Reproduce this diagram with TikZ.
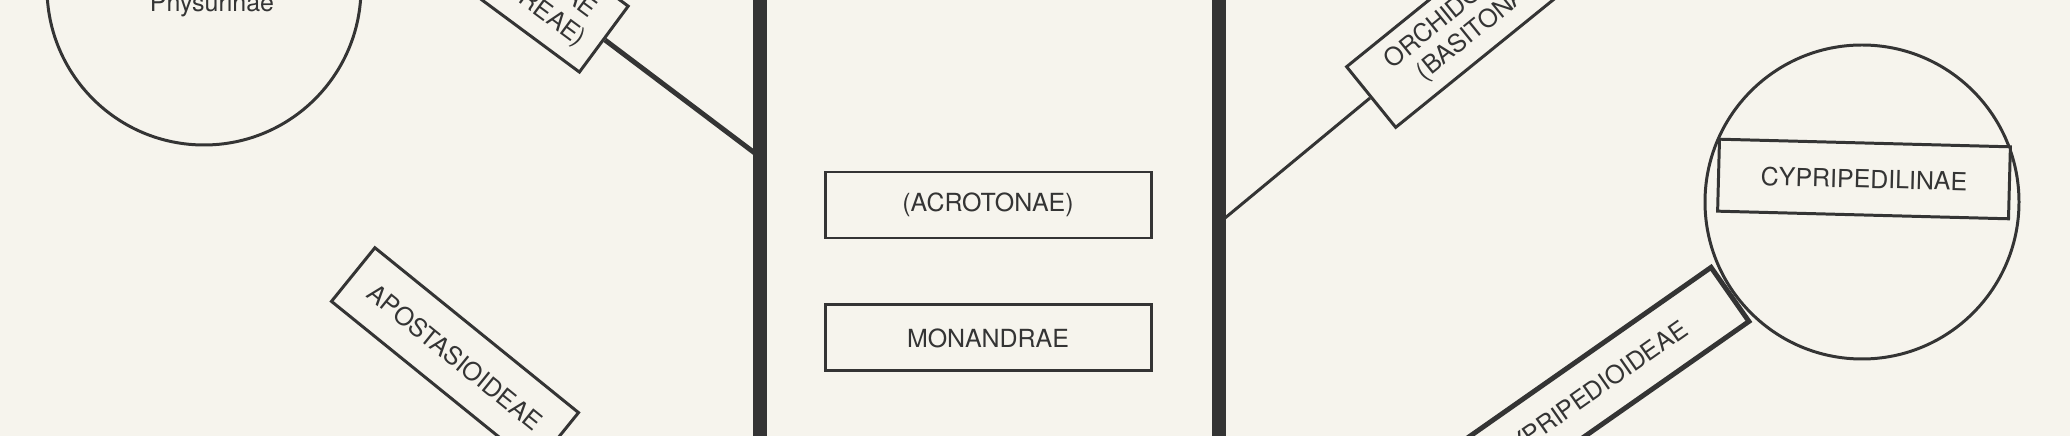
\documentclass[tikz,border=0pt]{standalone}
\usepackage{fontspec}
\setmainfont{TeX Gyre Heros}
\usepackage{tikz}
\usetikzlibrary{positioning}
\definecolor{paper}{RGB}{246,244,237}
\definecolor{ink}{RGB}{52,52,52}

\begin{document}
\begin{tikzpicture}[x=0.1mm,y=-0.1mm]

\tikzset{taxon/.style={
		draw=ink,
		line width=0.85pt,
		fill=paper,
		text=ink,
		font=\fontsize{7.1pt}{8.3pt}\selectfont,
		inner sep=0pt,
		minimum height=#1,
		anchor=center
	},
	taxon/.default=6.6mm,
	clade/.style={draw=ink, line width=0.85pt, circle, inner sep=0pt, minimum size=31.4mm},
	stem/.style={draw=ink, line width=3.8pt},
	branch/.style={draw=ink, line width=#1},
	branch/.default=0.85pt
}
\useasboundingbox (0,0) rectangle (2070,436);
\clip (0,0) rectangle (2070,436);
\fill[paper] (0,0) rectangle (2070,436);

%left side
\node[clade] (physc) at (204,-12) {};
\node[text=ink, font=\fontsize{7.1pt}{8.3pt}\selectfont, anchor=base] (physl) at (212,12) {Physurinae};
\node[taxon=8.2mm, rotate=-36.5, anchor=east, align=center, text width=24.5mm, inner xsep=1.2mm] (spir) at (605,40) {SPIRANTHOIDEAE\\(POLYCHONDREAE)};
\node[taxon=6.9mm, rotate=-39, minimum width=26.2mm] (apos) at (455,357) {APOSTASIOIDEAE};

%middle
\node[taxon, minimum width=32.6mm] (acro) at (988,205) {(ACROTONAE)};
\node[taxon, minimum width=32.6mm, below=6.4mm of acro] (mono) {MONANDRAE};

%right side
\node[taxon=7.8mm, rotate=39, anchor=west, align=center, text width=20.5mm, inner xsep=2.8mm] (orch) at (1370,98) {ORCHIDOIDEAE\\(BASITONAE)};
\node[taxon, line width=1.4pt, rotate=35, anchor=east, minimum width=34mm] (cyprd) at (1732,293) {CYPRIPEDIOIDEAE};
\node[clade] (cyprc) at (1862,202) {};
\node[taxon=7.2mm, rotate=-1.5, minimum width=29.1mm] (cyprl) at (1864,179) {CYPRIPEDILINAE};

\coordinate (jL) at (760,157);
\coordinate (jR) at (1219,223);
\draw[branch=1.4pt] (spir.east) -- (jL);
\draw[branch] (orch.west) -- (jR);

\draw[stem] (760,-20) -- (760,460);
\draw[stem] (1219,-20) -- (1219,460);
\end{tikzpicture}
\end{document}
